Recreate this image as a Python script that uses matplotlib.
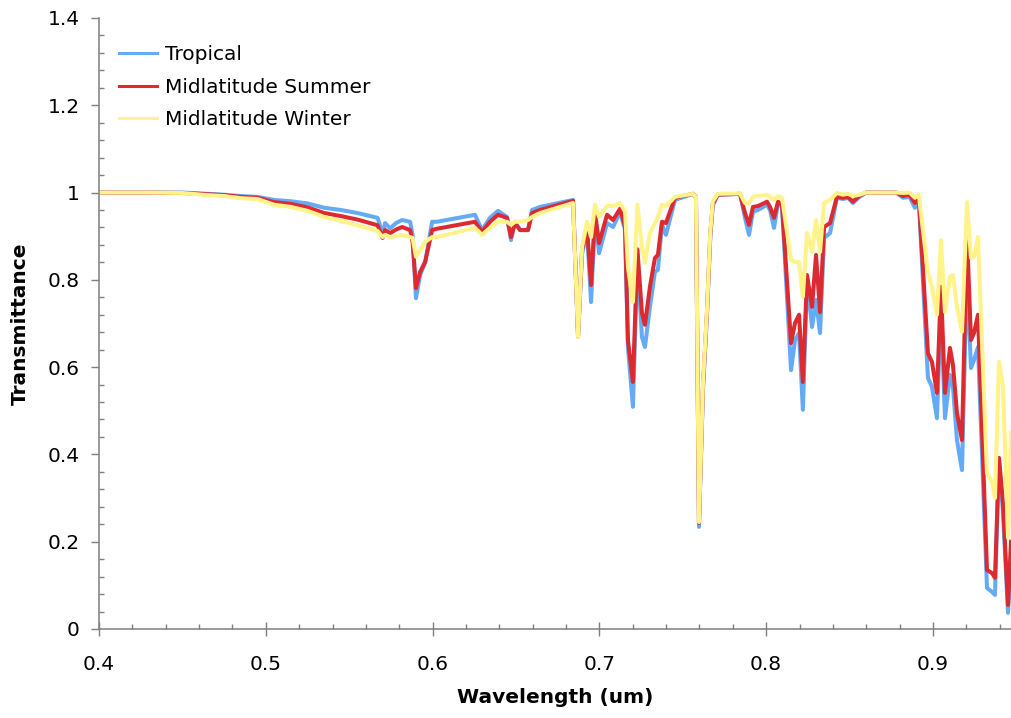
import matplotlib
matplotlib.use("Agg")
import matplotlib.pyplot as plt
from matplotlib.ticker import MultipleLocator, FuncFormatter

wavelength = [0.400, 0.430, 0.450, 0.465, 0.475, 0.485, 0.495, 0.505, 0.515, 0.525,
              0.535, 0.545, 0.555, 0.567, 0.570, 0.5715, 0.5745, 0.578, 0.5817, 0.5865,
              0.588, 0.590, 0.5925, 0.5955, 0.5997, 0.6026, 0.6254, 0.6296, 0.6344, 0.6392,
              0.6446, 0.647, 0.6494, 0.6524, 0.6572, 0.6596, 0.6644, 0.6842, 0.6872, 0.6896,
              0.6926, 0.695, 0.6974, 0.6998, 0.7046, 0.7082, 0.7124, 0.7154, 0.7171, 0.7201,
              0.7228, 0.7255, 0.7273, 0.7303, 0.7333, 0.7351, 0.7375, 0.7399, 0.7453, 0.7561,
              0.7579, 0.7597, 0.7621, 0.7645, 0.7665, 0.768, 0.771, 0.7843, 0.7873, 0.7897,
              0.7921, 0.7951, 0.8005, 0.8023, 0.8047, 0.8071, 0.8095, 0.8149, 0.8173, 0.8197,
              0.822, 0.8245, 0.8275, 0.8299, 0.8323, 0.8347, 0.8383, 0.8424, 0.846, 0.849,
              0.852, 0.856, 0.860, 0.878, 0.882, 0.886, 0.8892, 0.8915, 0.897, 0.8994,
              0.9024, 0.9048, 0.9072, 0.9102, 0.912, 0.9144, 0.9174, 0.9204, 0.9228, 0.9246,
              0.927, 0.9324, 0.9354, 0.9372, 0.9396, 0.942, 0.945, 0.9468]

tropical = [1.000, 1.000, 1.000, 0.997, 0.995, 0.992, 0.990, 0.983, 0.980, 0.975,
            0.965, 0.960, 0.953, 0.942, 0.905, 0.930, 0.918, 0.930, 0.937, 0.933,
            0.903, 0.758, 0.811, 0.839, 0.933, 0.933, 0.949, 0.914, 0.942, 0.958,
            0.944, 0.891, 0.933, 0.914, 0.914, 0.960, 0.967, 0.983, 0.670, 0.860,
            0.910, 0.749, 0.944, 0.861, 0.930, 0.921, 0.956, 0.914, 0.646, 0.509,
            0.850, 0.669, 0.646, 0.738, 0.818, 0.823, 0.926, 0.903, 0.983, 0.997,
            0.990, 0.234, 0.550, 0.720, 0.900, 0.970, 0.995, 0.997, 0.942, 0.903,
            0.956, 0.960, 0.972, 0.960, 0.919, 0.976, 0.967, 0.593, 0.662, 0.678,
            0.502, 0.800, 0.692, 0.754, 0.678, 0.896, 0.907, 0.988, 0.985, 0.988,
            0.976, 0.990, 1.000, 1.000, 0.988, 0.990, 0.965, 0.985, 0.575, 0.555,
            0.483, 0.738, 0.483, 0.582, 0.555, 0.433, 0.364, 0.823, 0.598, 0.616,
            0.646, 0.094, 0.085, 0.078, 0.387, 0.266, 0.037, 0.150]

mid_summer = [1.000, 1.000, 0.999, 0.996, 0.994, 0.990, 0.988, 0.978, 0.974, 0.966,
              0.953, 0.946, 0.938, 0.925, 0.896, 0.914, 0.907, 0.915, 0.921, 0.914,
              0.887, 0.781, 0.818, 0.841, 0.914, 0.917, 0.933, 0.910, 0.933, 0.949,
              0.942, 0.898, 0.930, 0.914, 0.914, 0.953, 0.960, 0.981, 0.670, 0.870,
              0.920, 0.788, 0.953, 0.884, 0.949, 0.937, 0.963, 0.921, 0.662, 0.566,
              0.870, 0.724, 0.697, 0.784, 0.850, 0.857, 0.933, 0.930, 0.988, 0.997,
              0.990, 0.243, 0.555, 0.725, 0.905, 0.975, 0.995, 0.997, 0.953, 0.926,
              0.967, 0.969, 0.979, 0.967, 0.942, 0.979, 0.972, 0.655, 0.701, 0.720,
              0.566, 0.811, 0.738, 0.857, 0.726, 0.921, 0.930, 0.990, 0.988, 0.990,
              0.979, 0.993, 1.000, 1.000, 0.992, 0.995, 0.976, 0.988, 0.632, 0.612,
              0.541, 0.784, 0.541, 0.644, 0.605, 0.495, 0.433, 0.907, 0.662, 0.678,
              0.720, 0.135, 0.128, 0.117, 0.392, 0.289, 0.055, 0.200]

mid_winter = [1.000, 1.000, 0.999, 0.994, 0.992, 0.987, 0.985, 0.972, 0.967, 0.958,
              0.944, 0.935, 0.925, 0.912, 0.898, 0.903, 0.898, 0.900, 0.903, 0.898,
              0.896, 0.853, 0.868, 0.887, 0.898, 0.898, 0.919, 0.903, 0.919, 0.933,
              0.933, 0.926, 0.933, 0.933, 0.937, 0.944, 0.953, 0.976, 0.669, 0.875,
              0.933, 0.898, 0.972, 0.944, 0.969, 0.969, 0.976, 0.956, 0.830, 0.749,
              0.972, 0.875, 0.839, 0.907, 0.930, 0.944, 0.972, 0.969, 0.990, 0.997,
              0.990, 0.245, 0.563, 0.730, 0.910, 0.980, 0.997, 0.998, 0.976, 0.976,
              0.990, 0.992, 0.995, 0.990, 0.983, 0.992, 0.988, 0.846, 0.841, 0.841,
              0.761, 0.907, 0.864, 0.937, 0.864, 0.976, 0.983, 0.999, 0.995, 0.997,
              0.992, 0.995, 1.000, 1.000, 0.999, 1.000, 0.988, 0.995, 0.816, 0.784,
              0.720, 0.891, 0.726, 0.807, 0.811, 0.738, 0.681, 0.978, 0.850, 0.853,
              0.898, 0.357, 0.337, 0.300, 0.612, 0.555, 0.209, 0.450]

series_labels = ["Tropical", "Midlatitude Summer", "Midlatitude Winter"]
series_colors = ["#63AAF7", "#DD2A30", "#FFF389"]

fig = plt.figure(figsize=(10.11, 7.18), dpi=100)
ax = fig.add_axes([0.098, 0.124, 0.902, 0.851])

for vals, lab, col in zip([tropical, mid_summer, mid_winter], series_labels, series_colors):
    ax.plot(wavelength, vals, color=col, lw=2.9, label=lab, solid_joinstyle="round")

ax.set_xlim(0.4, 0.9468)
ax.set_ylim(0, 1.4)
ax.xaxis.set_major_locator(MultipleLocator(0.1))
ax.xaxis.set_minor_locator(MultipleLocator(0.02))
ax.yaxis.set_major_locator(MultipleLocator(0.2))
ax.yaxis.set_minor_locator(MultipleLocator(0.04))
ax.xaxis.set_major_formatter(FuncFormatter(lambda v, p: f"{v:g}"))
ax.yaxis.set_major_formatter(FuncFormatter(lambda v, p: f"{round(v, 2):g}"))

for s in ["top", "right"]:
    ax.spines[s].set_visible(False)
for s in ["left", "bottom"]:
    ax.spines[s].set_color("#7f7f7f")
    ax.spines[s].set_linewidth(1.1)

ax.tick_params(axis="x", which="major", direction="inout", length=9.5, width=1, color="#7f7f7f",
               labelsize=14.5, pad=14, labelcolor="black")
ax.tick_params(axis="x", which="minor", direction="in", length=3.6, width=1, color="#7f7f7f")
ax.tick_params(axis="y", which="major", direction="out", length=5.8, width=1, color="#7f7f7f",
               labelsize=14.5, pad=8, labelcolor="black")
ax.tick_params(axis="y", which="minor", direction="in", length=3.6, width=1, color="#7f7f7f")

ax.set_xlabel("Wavelength (um)", fontsize=14.5, fontweight="bold", labelpad=10)
ax.set_ylabel("Transmittance", fontsize=14.5, fontweight="bold", labelpad=13)

leg = ax.legend(loc="upper left", bbox_to_anchor=(0.0, 0.988), frameon=False, fontsize=14.5,
                handlelength=1.9, handletextpad=0.35, labelspacing=0.66, borderaxespad=0.6)
for h in leg.get_lines():
    h.set_linewidth(2.2)

fig.savefig("out.png", dpi=100)
